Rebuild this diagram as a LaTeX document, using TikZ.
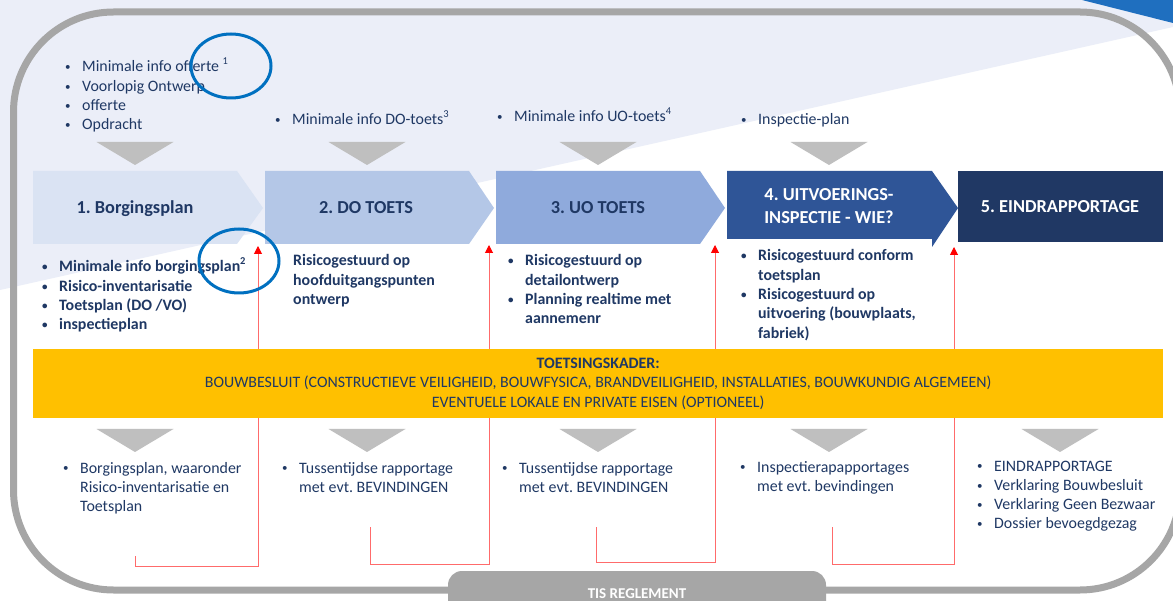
\documentclass[tikz,border=0pt]{standalone}
\usepackage{fontspec}
\setmainfont{Carlito}
\usetikzlibrary{arrows.meta}
\frenchspacing
\definecolor{navy}{HTML}{1F3864}
\definecolor{lav}{HTML}{EBEEF8}
\definecolor{bgray}{HTML}{A6A6A6}
\definecolor{tgray}{HTML}{BFBFBF}
\definecolor{gold}{HTML}{FFC000}
\definecolor{ringblue}{HTML}{0070C0}
\definecolor{cornerblue}{HTML}{1F6FBF}
\definecolor{cA}{HTML}{DAE3F3}
\definecolor{cB}{HTML}{B4C7E7}
\definecolor{cC}{HTML}{8FAADC}
\definecolor{cD}{HTML}{2F5597}
\definecolor{cE}{HTML}{203864}
\definecolor{fbred}{HTML}{FF6B6B}
\newcommand\bi{\makebox[17pt][l]{\raisebox{0.08em}{\fontsize{11}{11}\selectfont •}}}
\newcommand\hind{\hspace*{17pt}}
\newcommand\sups[1]{\raisebox{0.45em}{\fontsize{10.5}{10}\selectfont #1}}
\newcommand\myfont{\fontsize{15.9}{19.3}\selectfont}
\newcommand\titlefont{\fontsize{18.3}{23}\selectfont}
\begin{document}
\begin{tikzpicture}[x=1pt,y=-1pt,
  txt/.style={inner sep=0pt, anchor=base west, align=left, text=navy, font=\myfont},
  btxt/.style={txt, font=\myfont\bfseries},
  title/.style={inner sep=0pt, anchor=base, align=center, font=\titlefont\bfseries},
  tri/.style={fill=tgray},
  fb/.style={draw=fbred, line width=1pt},
  fbtip/.style={-{Triangle[width=8pt,length=8pt,color=red]}},
  ring/.style={draw=ringblue, line width=3pt}]
\useasboundingbox (0,0) rectangle (1173,601);
\begin{scope}
\clip (0,0) rectangle (1173,601);
\fill[white] (0,0) rectangle (1173,601);
\fill[lav] (0,0) -- (1173,0) -- (1173,27) -- (0,290) -- cycle;
\fill[cornerblue] (1082,0) -- (1173,0) -- (1173,23) -- cycle;
\draw[bgray, line width=7pt, rounded corners=100pt] (13.5,12) rectangle (1180,590);
\fill[bgray, rounded corners=14pt] (448,615) -- (448,571) -- (826,571) -- (826,615) -- cycle;
\end{scope}
\node[inner sep=0pt, anchor=base, text=white, font=\fontsize{15}{18}\selectfont\bfseries] (tis) at (637,598) {TIS REGLEMENT};

% feedback connectors
\coordinate (s1) at (135,556); \coordinate (b1) at (135,566); \coordinate (t1) at (258,246);
\coordinate (s2) at (370,527); \coordinate (b2) at (370,564); \coordinate (t2) at (489,245);
\coordinate (s3) at (596,527); \coordinate (b3) at (596,562); \coordinate (t3) at (715,245);
\coordinate (s4) at (832,527); \coordinate (b4) at (832,564); \coordinate (t4) at (954,247);
\foreach \i in {1,...,4} \draw[fb, fbtip] (s\i) -- (b\i) -| (t\i);

% chevrons
\fill[cA] (33,171) -- (237,171) -- (263,208) -- (237,244) -- (33,244) -- cycle;
\fill[cB] (265,171) -- (469,171) -- (494,208) -- (469,244) -- (265,244) -- cycle;
\fill[cC] (496,171) -- (700,171) -- (725,208) -- (700,244) -- (496,244) -- cycle;
\fill[cD] (727,171) -- (932,171) -- (958,208) -- (932,247) -- (932,239) -- (727,239) -- cycle;
\fill[cE] (958,171) rectangle (1163,242);
\node[title, text=navy] (n1) at (135,214) {1. Borgingsplan};
\node[title, text=navy] (n2) at (366,214) {2. DO TOETS};
\node[title, text=navy] (n3) at (598,214) {3. UO TOETS};
\node[title, text=white] (n4) at (829,224) {4. UITVOERINGS-\\INSPECTIE - WIE?};
\node[title, text=white] (n5) at (1060,213) {5. EINDRAPPORTAGE};

% triangles
\foreach \c in {135,367,598,829} \fill[tri] (\c-38.5,142) -- (\c+38.5,142) -- (\c,165) -- cycle;
\foreach \c in {135,367,598,829,1060} \fill[tri] (\c-38.5,429) -- (\c+38.5,429) -- (\c,452) -- cycle;

% band
\node[fill=gold, inner sep=0pt, minimum width=1130pt, minimum height=69pt, anchor=north west,
  text=navy, font=\myfont, align=center] (kader) at (33,349)
  {\textbf{TOETSINGSKADER:}\\BOUWBESLUIT (CONSTRUCTIEVE VEILIGHEID, BOUWFYSICA, BRANDVEILIGHEID, INSTALLATIES, BOUWKUNDIG ALGEMEEN)\\EVENTUELE LOKALE EN PRIVATE EISEN (OPTIONEEL)};

% top inputs (anchor = baseline of last line)
\node[txt] (in1) at (65,129.9) {\bi Minimale info offerte \sups{1}\\\bi Voorlopig Ontwerp\\\bi offerte\\\bi Opdracht};
\node[txt] (in2) at (275,125) {\bi Minimale info DO-toets\sups{3}};
\node[txt] (in3) at (497,122) {\bi Minimale info UO-toets\sups{4}};
\node[txt] (in4) at (741,125) {\bi Inspectie-plan};

% middle (bold)
\node[btxt] (m1) at (42,329.9) {\bi Minimale info borgingsplan\sups{2}\\\bi Risico-inventarisatie\\\bi Toetsplan (DO /VO)\\\bi inspectieplan};
\node[btxt] (m2) at (293,304.6) {Risicogestuurd op\\hoofduitgangspunten\\ontwerp};
\node[btxt] (m3) at (508,323.9) {\bi Risicogestuurd op\\\hind detailontwerp\\\bi Planning realtime met\\\hind aannemenr};
\node[btxt] (m4) at (741,338.2) {\bi Risicogestuurd conform\\\hind toetsplan\\\bi Risicogestuurd op\\\hind uitvoering (bouwplaats,\\\hind fabriek)};

% bottom outputs
\node[txt] (o1) at (63,511.6) {\bi Borgingsplan, waaronder\\\hind Risico-inventarisatie en\\\hind Toetsplan};
\node[txt] (o2) at (282,492.3) {\bi Tussentijdse rapportage\\\hind met evt. BEVINDINGEN};
\node[txt] (o3) at (502,492.3) {\bi Tussentijdse rapportage\\\hind met evt. BEVINDINGEN};
\node[txt] (o4) at (740,491.3) {\bi Inspectierapapportages\\\hind met evt. bevindingen};
\node[txt] (o5) at (977,528.9) {\bi EINDRAPPORTAGE\\\bi Verklaring Bouwbesluit\\\bi Verklaring Geen Bezwaar\\\bi Dossier bevoegdgezag};

% rings
\draw[ring] (231,66) ellipse [x radius=40pt, y radius=32pt];
\draw[ring] (239,261) ellipse [x radius=40pt, y radius=32pt];
\end{tikzpicture}
\end{document}
